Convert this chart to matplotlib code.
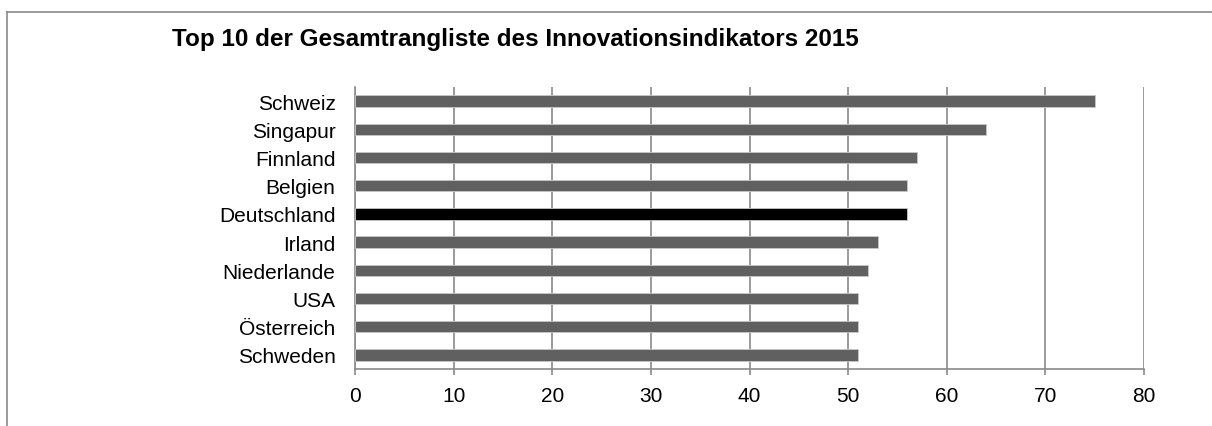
import matplotlib.pyplot as plt
from matplotlib.lines import Line2D

plt.rcParams['font.family'] = ['Liberation Sans', 'DejaVu Sans']

countries = ["Schweiz", "Singapur", "Finnland", "Belgien", "Deutschland",
             "Irland", "Niederlande", "USA", "Österreich", "Schweden"]
scores = [75, 64, 57, 56, 56, 53, 52, 51, 51, 51]
highlight = "Deutschland"
title = "Top 10 der Gesamtrangliste des Innovationsindikators 2015"
xticks = [0, 10, 20, 30, 40, 50, 60, 70, 80]

grey = "#8a8a8a"

fig = plt.figure(figsize=(12.12, 4.27), dpi=100)
ax = fig.add_axes([355 / 1212, 1 - 370 / 427, (1144 - 355) / 1212, (370 - 88) / 427])

colors = ["black" if c == highlight else "#606060" for c in countries]
ax.barh(range(len(countries)), scores, height=0.4, color=colors,
        edgecolor="#c8c8c8", linewidth=0.6, zorder=3)

ax.set_xlim(0, 80)
ax.set_ylim(len(countries) - 0.5, -0.5)
ax.set_xticks(xticks)
ax.set_yticks(range(len(countries)))
ax.set_yticklabels(countries)
ax.grid(axis="x", color=grey, linewidth=1.2, zorder=0)
ax.set_axisbelow(True)

for s in ["top", "right"]:
    ax.spines[s].set_visible(False)
for s in ["left", "bottom"]:
    ax.spines[s].set_color(grey)
    ax.spines[s].set_linewidth(1.2)

ax.tick_params(axis="x", length=4.5, width=1.2, color=grey, pad=8, labelsize=15)
ax.tick_params(axis="y", length=0, pad=14, labelsize=15)

fig.text(172 / 1212, 1 - 46 / 427, title, fontsize=17.5, fontweight="bold",
         va="baseline", ha="left")

# outer frame: only top and left edges are inside the picture
top = 1 - 12.5 / 427
left = 7 / 1212
fig.add_artist(Line2D([left, 1.0], [top, top], transform=fig.transFigure,
                      color=grey, linewidth=1.2))
fig.add_artist(Line2D([left, left], [0.0, top], transform=fig.transFigure,
                      color=grey, linewidth=1.2))

fig.savefig("out.png", dpi=100)
